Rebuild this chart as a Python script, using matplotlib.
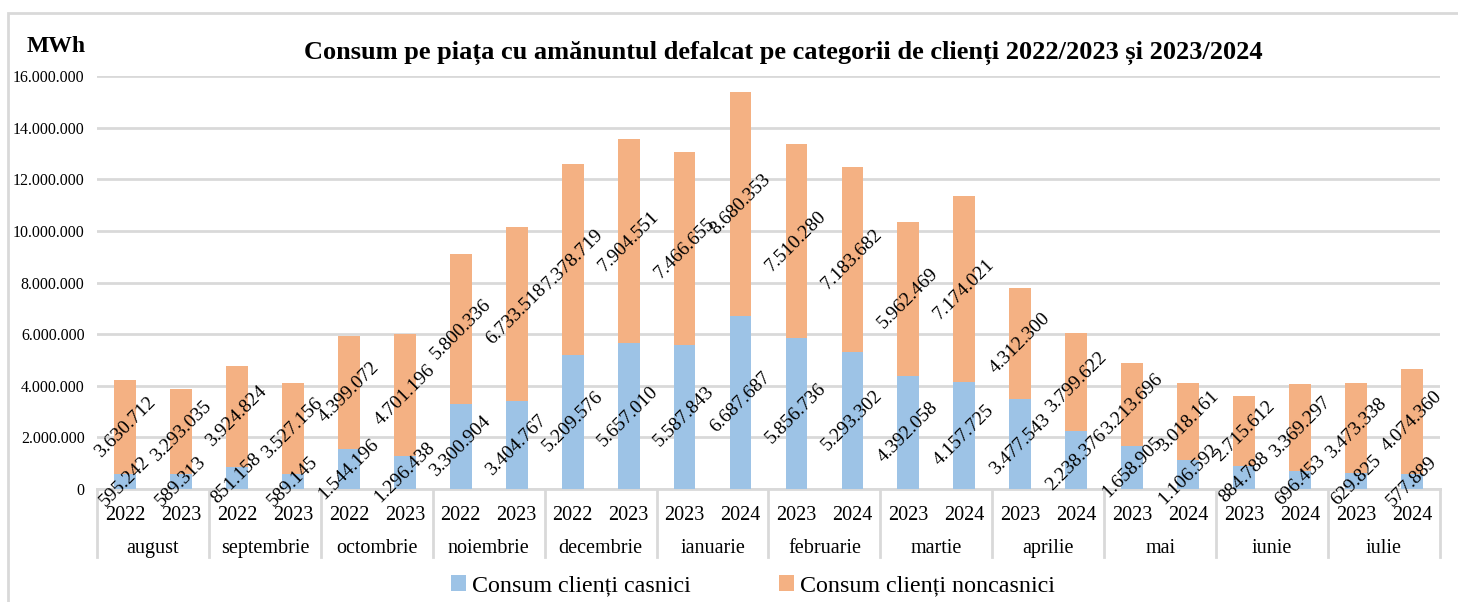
import numpy as np
import matplotlib.pyplot as plt
from matplotlib.patches import Rectangle

plt.rcParams['font.family'] = ['Liberation Serif', 'DejaVu Serif']

luni = ['august', 'septembrie', 'octombrie', 'noiembrie', 'decembrie', 'ianuarie',
        'februarie', 'martie', 'aprilie', 'mai', 'iunie', 'iulie']
ani = [['2022', '2023'], ['2022', '2023'], ['2022', '2023'], ['2022', '2023'],
       ['2022', '2023'], ['2023', '2024'], ['2023', '2024'], ['2023', '2024'],
       ['2023', '2024'], ['2023', '2024'], ['2023', '2024'], ['2023', '2024']]

# consum clienti casnici (MWh), cate doua valori pe luna
casnici = [595242, 589313, 851158, 589145, 1544196, 1296438, 3300904, 3404767,
           5209576, 5657010, 5587843, 6687687, 5856736, 5293302, 4392058, 4157725,
           3477543, 2238376, 1658905, 1106592, 884788, 696453, 629825, 577889]
# consum clienti noncasnici (MWh)
noncasnici = [3630712, 3293035, 3924824, 3527156, 4399072, 4701196, 5800336, 6733518,
              7378719, 7904551, 7466655, 8680353, 7510280, 7183682, 5962469, 7174021,
              4312300, 3799622, 3213696, 3018161, 2715612, 3369297, 3473338, 4074360]

c_blue = '#9DC3E6'
c_orange = '#F4B183'
grid_c = '#D9D9D9'


def fmt(v):
    return f'{int(v):,}'.replace(',', '.')


fig = plt.figure(figsize=(14.58, 6.02), dpi=100)
ax = fig.add_axes([97 / 1458, 1 - 489 / 602, (1440 - 97) / 1458, (489 - 76) / 602])

n = len(casnici)
x = np.arange(n)
w = 0.39
b1 = ax.bar(x, casnici, w, color=c_blue, label='Consum clienți casnici', zorder=3)
b2 = ax.bar(x, noncasnici, w, bottom=casnici, color=c_orange,
            label='Consum clienți noncasnici', zorder=3)

# etichete rotite pe segmente
for i in range(n):
    ax.text(x[i], casnici[i] / 2, fmt(casnici[i]), rotation=45, ha='center',
            va='center', fontsize=14, zorder=5, rotation_mode='anchor')
    ax.text(x[i], casnici[i] + noncasnici[i] / 2, fmt(noncasnici[i]), rotation=45,
            ha='center', va='center', fontsize=14, zorder=5, rotation_mode='anchor')

ax.set_xlim(-0.5, n - 0.5)
ax.set_ylim(0, 16000000)
yt = np.arange(0, 16000001, 2000000)
ax.set_yticks(yt)
ax.set_yticklabels([fmt(v) for v in yt], fontsize=11.5)
ax.yaxis.grid(True, color=grid_c, linewidth=2, zorder=0)
ax.tick_params(axis='y', length=0, pad=9)

ax.set_xticks(x)
ax.set_xticklabels([a for p in ani for a in p], fontsize=14.5)
ax.tick_params(axis='x', length=0, pad=12)

for s in ['top', 'right', 'left']:
    ax.spines[s].set_visible(False)
ax.spines['bottom'].set_color(grid_c)
ax.spines['bottom'].set_linewidth(2)

# separatoare intre luni si numele lunilor
tr = ax.get_xaxis_transform()
for k in range(len(luni) + 1):
    ax.plot([k * 2 - 0.5, k * 2 - 0.5], [0, -0.165], transform=tr, color=grid_c,
            linewidth=2, clip_on=False)
for k, m in enumerate(luni):
    ax.text(k * 2 + 0.5, -0.143, m, transform=tr, ha='center', va='center', fontsize=14.5)

fig.text(56 / 1458, 1 - 47 / 602, 'MWh', ha='center', va='center', fontsize=17,
         fontweight='bold')
fig.text(783 / 1458, 1 - 53 / 602,
         'Consum pe piața cu amănuntul defalcat pe categorii de clienți 2022/2023 și 2023/2024',
         ha='center', va='center', fontsize=19, fontweight='bold')

fig.legend(handles=[b1, b2], loc='center', bbox_to_anchor=(753 / 1458, 1 - 586 / 602),
           ncol=2, frameon=False, fontsize=17.3, handlelength=0.6, handleheight=0.6,
           columnspacing=3.7, handletextpad=0.25)

fig.patches.append(Rectangle((8 / 1458, -0.05), 1.1, 1.05 - 13 / 602,
                             transform=fig.transFigure, fill=False,
                             edgecolor=grid_c, linewidth=2))

fig.savefig('out.png', dpi=100)
